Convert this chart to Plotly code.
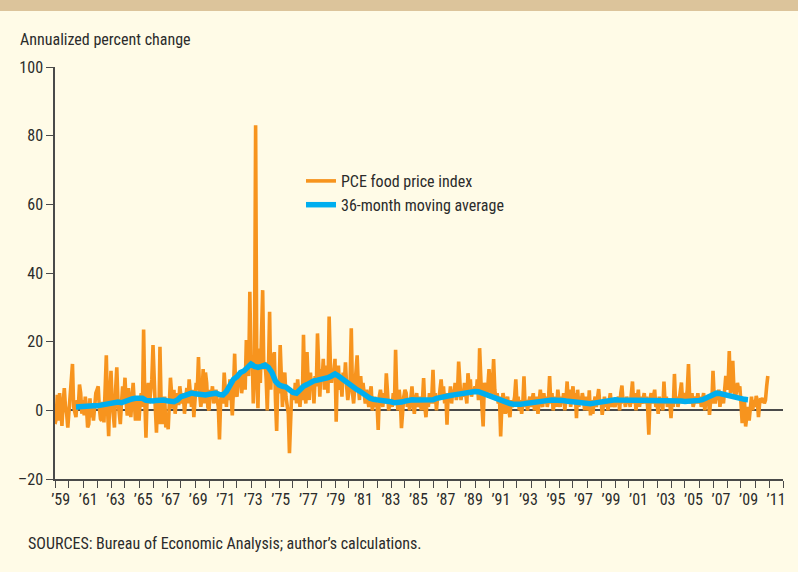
import pandas as pd
import plotly.graph_objects as go

# Monthly PCE food price index, annualized percent change (Jan 1959 - Dec 2009)
pce_food = [
    -4, -2.5, 4.5, -3, 5, -1, -4.5, 2, 6.5, 1, -1, -5,          # 1959
    0, 2, 6, 13.5, 1, -0.5, -2, 3, 1, 7.5, 5, -1,               # 1960
    3, -1.5, 4, 1, -5, -4, 3.5, -2, 1.5, -3, 2, 5,              # 1961
    6, 7, 1, -2.5, -3, 2.5, -3.5, 4, 16, 1, -7.5, 4,            # 1962
    11.5, 2, -3, -5, 6, 12.5, 3, -1, -4, 2, 7, 3,               # 1963
    9.5, 2, -1.5, 6.5, 1, -2, 3, 8, 2, -3, 4, 1,                # 1964
    -3, 3, 5, 1, 23.5, 3, -8, 4, 8, 2, 5, 9,                    # 1965
    19, 6, 1, -6.5, 3, -4, 18.5, 2, -4, -1, 4, -5,              # 1966
    -2, -5.5, 1, 9.5, 5, 0.5, 6, -1, 3, 5, 1.5, 7,              # 1967
    4, 2, 5, -1, 3, 6.5, 2, 9, 5, 1, 6, -2,                     # 1968
    3, 8, 6, 15.5, 5, 1, 4, 12, 2, 11, 8, 1,                    # 1969
    0, 6, 4, 7, 2, 5, 6, 3, 1, -8.5, 3, 5,                      # 1970
    2, 11, 4, 1, 7, 3, 9, 2, -1.5, 6, 16.5, 5,                  # 1971
    4, 9, 7, 11, 5, 8, 12, 6, 20.5, 14, 10, 34.5,               # 1972
    13, 16, 2, 15, 83, 10, 0.6, 18, 8, 22, 35, 12,              # 1973
    14, 9, 0, 12, 28.7, 6, 16.6, 10, 17, 3, -6, 8,              # 1974
    5, 19, 7, 1, 9, 11, 4, 2, -1, -12.5, 2, 6,                  # 1975
    5, 3, 8, 2, 9, 4, 1, 6, 3, 22, 5, 2,                        # 1976
    17, 8, 3, 11, 6, 9, 2, 10, 7, 22.4, 9, 4,                   # 1977
    12, 9, 15, 6, 13, 11, 5, 27.3, 14, 8, 12, 10,               # 1978
    15, -3.3, 10, 13, 6, 9, 4, 11, 8, 14, 7, 3,                 # 1979
    6, 9, 23.9, 5, 2, 8, 12, 16, 7, 3, 10, 5,                   # 1980
    8, 4, 2, 6, 3, 1, 5, 7, 0, 3, 4, 1,                         # 1981
    2, -5.7, 4, 6, 3, 1, 5, 2, 10.8, 3, 0, 2,                   # 1982
    3, 1, 5, 2, 17.6, 4, 0, 6, 3, -5.2, 2, 4,                   # 1983
    6, 5, 1, 3, 0, 4, 7, 2, -1, 3, 5, 1,                        # 1984
    2, 4, 0, 3, 9.4, 1, -2, 3, 1, 5, 2, 4,                      # 1985
    11.8, 2, 5, 0, 4, 3, 6, 9, 4, 7, 2, 5,                      # 1986
    -4.2, 5, 3, 7, 2, 6, 4, 8, 3, 5, 14.2, 6,                   # 1987
    3, 6, 4, 8, 5, 2, 10.8, 7, 9, 4, 6, 5,                      # 1988
    7, 5, 9, 3, 18.1, 6, 1, -4.7, 8, 6, 4, 7,                   # 1989
    12, 8, 4, 7, 14.9, 6, 3, 5, 2, 4, -7.6, 1,                  # 1990
    5, 3, -1, 2, 4, 0, -2, 3, 1, 2, 4, 9,                       # 1991
    2, 4, 0, 3, -1, 2, 9.9, 1, 3, 0, 2, 4,                      # 1992
    1, 3, 5, 0, 2, 4, -1, 3, 6, 2, 1, 5,                        # 1993
    2, 4, 1, 3, 10, 2, 5, 0, 3, 4, 1, 6,                        # 1994
    3, 1, 4, 2, 5, 0, 3, 8.4, 2, 6, 1, 4,                       # 1995
    7, 2, 5, -2.3, 6, 1, 4, 2, 5, 3, 0, 4,                      # 1996
    2, 0, 5.8, -1.5, 3, -1, 2, 4, 1, 3, 6.2, 2,                 # 1997
    3, -1.3, 2, 4, 1, 3, 0, 2, 5, 1, 3, 2,                      # 1998
    1, 3, 2, 4, 0, 5, 7.2, 2, 3, 1, 4, 2,                       # 1999
    3, 1, 4, 8.4, 2, 5, 0, 3, 6, 1, 4, 2,                       # 2000
    3, 5, 2, 4, 1, -7.1, 3, 5, 2, 4, 6, 1,                      # 2001
    2, -1, 4, 1, 3, 0, 8.4, 2, 4, 1, 3, 2,                      # 2002
    -2.3, 3, 1, 10.6, 2, 4, 1, 3, 5, 8.1, 2, 4,                 # 2003
    5, 3, 6, 13.5, 4, 2, 5, 1, 3, 4, 2, 5,                      # 2004
    2, 4, 1, 3, 5, 0, 3, 2, 4, -1.3, 3, 2,                      # 2005
    11.5, 4, 2, 5, 3, 6, 1, 4, 5, 2, 7, 10,                     # 2006
    6, 8, 17.3, 5, 7, 14.4, 6, 4, 5, 8, 6, 7,                   # 2007
    2, -3.7, 0, 3, -4.7, -2, 1, -3, 2, 4, 0, 3,                 # 2008
    1, 4.2, 3, -2, 2, 3.5, 3, 3.5, 2, 3, 7, 10,                 # 2009
]
pce_start = "1959-01-01"

# 36-month (centered) moving average, read quarterly from Jul 1960 to Jul 2008
moving_avg = [
    1.0, 1.1,                      # 1960 (Jul, Oct)
    1.2, 1.5, 1.5, 1.3,            # 1961
    1.3, 1.5, 1.7, 2.0,            # 1962
    2.1, 2.2, 2.4, 2.2,            # 1963
    2.7, 3.0, 3.3, 3.5,            # 1964
    3.6, 3.5, 2.9, 2.6,            # 1965
    2.7, 2.9, 3.1, 3.0,            # 1966
    2.8, 2.6, 2.5, 3.0,            # 1967
    4.0, 4.3, 4.8, 5.0,            # 1968
    4.8, 4.6, 4.6, 4.5,            # 1969
    4.7, 4.9, 5.0, 4.6,            # 1970
    4.5, 5.5, 7.5, 9.0,            # 1971
    9.8, 11.0, 11.5, 12.5,         # 1972
    13.5, 12.8, 12.5, 12.8,        # 1973
    13.2, 12.5, 11.0, 8.5,         # 1974
    7.4, 7.0, 6.8, 6.0,            # 1975
    5.2, 5.0, 6.3, 7.0,            # 1976
    7.5, 8.3, 8.6, 8.8,            # 1977
    9.0, 9.1, 9.5, 10.0,           # 1978
    10.6, 10.0, 9.2, 8.5,          # 1979
    7.4, 7.0, 6.2, 5.6,            # 1980
    4.8, 4.2, 3.5, 3.2,            # 1981
    3.1, 2.9, 2.8, 2.6,            # 1982
    2.5, 2.2, 2.1, 2.4,            # 1983
    2.7, 3.0, 3.1, 3.0,            # 1984
    3.0, 3.1, 3.0, 3.1,            # 1985
    3.1, 3.5, 3.8, 4.0,            # 1986
    4.1, 4.3, 4.5, 4.7,            # 1987
    4.8, 5.0, 5.0, 5.2,            # 1988
    5.5, 5.4, 5.0, 4.6,            # 1989
    4.2, 3.8, 3.3, 3.0,            # 1990
    2.6, 2.2, 2.0, 1.8,            # 1991
    1.6, 1.8, 1.9, 2.1,            # 1992
    2.3, 2.5, 2.6, 2.7,            # 1993
    2.8, 2.9, 3.0, 3.1,            # 1994
    3.1, 2.9, 2.7, 2.6,            # 1995
    2.5, 2.3, 2.2, 2.0,            # 1996
    1.9, 1.9, 2.1, 2.3,            # 1997
    2.4, 2.7, 2.9, 3.1,            # 1998
    3.1, 3.0, 3.0, 2.9,            # 1999
    3.0, 2.9, 2.9, 3.0,            # 2000
    3.0, 3.1, 3.0, 2.9,            # 2001
    2.9, 2.9, 2.8, 2.9,            # 2002
    2.8, 2.8, 2.7, 2.7,            # 2003
    2.6, 2.6, 2.7, 2.8,            # 2004
    2.9, 3.1, 3.5, 3.9,            # 2005
    4.3, 5.0, 4.9, 4.6,            # 2006
    4.4, 4.1, 3.8, 3.6,            # 2007
    3.4, 3.2, 3.1,                 # 2008
]
ma_start = "1960-07-01"

y_ticks = [-20, 0, 20, 40, 60, 80, 100]
y_tick_text = ["\u201320", "0", "20", "40", "60", "80", "100"]
year_labels = list(range(1959, 2012, 2))
year_tick_text = ["\u2019" + str(y)[2:] for y in year_labels]

series_names = ["PCE food price index", "36-month moving average"]
title_text = "Annualized percent change"
source_text = "SOURCES: Bureau of Economic Analysis; author\u2019s calculations."

ORANGE = "#F7941E"
BLUE = "#00AEEF"
BG = "#FFFBE7"
TAN = "#DCC49B"
AXIS = "#4A4A4A"
TEXT = "#2B2B2B"
FONT = "Liberation Sans Narrow, Arial Narrow, Roboto Condensed, Liberation Sans, Arial, sans-serif"

pce_dates = pd.date_range(pce_start, periods=len(pce_food), freq="MS")
ma_dates = pd.date_range(ma_start, periods=len(moving_avg), freq="3MS")

W, H = 798, 572
L, R, T, B = 55, 12, 67, 93
pw, ph = W - L - R, H - T - B

fig = go.Figure()
fig.add_trace(go.Scatter(x=pce_dates, y=pce_food, mode="lines", name=series_names[0],
                         legendgroup="a", line=dict(color=ORANGE, width=3.6)))
fig.add_trace(go.Scatter(x=ma_dates, y=moving_avg, mode="lines", name=series_names[1],
                         legendgroup="b", line=dict(color=BLUE, width=5.5)))
# invisible helper trace carrying the year-label axis
fig.add_trace(go.Scatter(x=[f"{year_labels[0]}-01-01"], y=[None], xaxis="x2", mode="lines",
                         showlegend=False, hoverinfo="skip"))

year_start_ticks = [f"{y}-01-01" for y in range(1959, 2012)]

fig.update_layout(
    width=W, height=H,
    margin=dict(l=L, r=R, t=T, b=B, pad=0),
    paper_bgcolor=BG, plot_bgcolor=BG,
    font=dict(family=FONT, size=16, color=TEXT),
    showlegend=True,
    legend=dict(x=(302 - L) / pw, y=1 - (164 - T) / ph, xanchor="left", yanchor="top",
                bgcolor="rgba(0,0,0,0)", font=dict(size=16, color=TEXT),
                itemwidth=30, tracegroupgap=7, traceorder="normal"),
    xaxis=dict(type="date", range=["1959-01-01", "2011-01-01"],
               tickmode="array", tickvals=year_start_ticks, showticklabels=False,
               ticks="outside", ticklen=7, tickwidth=1.2, tickcolor=AXIS,
               showline=True, linecolor=AXIS, linewidth=1.5,
               showgrid=False, zeroline=False),
    xaxis2=dict(type="date", overlaying="x", anchor="y", side="bottom",
                range=["1958-08-03", "2011-07-04"],
                tickmode="array", tickvals=[f"{y}-01-01" for y in year_labels],
                ticktext=year_tick_text, ticks="", ticklabelstandoff=9,
                tickfont=dict(size=16, color=TEXT),
                showline=False, showgrid=False, zeroline=False),
    yaxis=dict(range=[-20, 100], tickmode="array", tickvals=y_ticks, ticktext=y_tick_text,
               ticks="outside", ticklen=7, tickwidth=1.2, tickcolor=AXIS,
               showline=True, linecolor=AXIS, linewidth=1.5,
               showgrid=False, zeroline=True, zerolinecolor=AXIS, zerolinewidth=1.5,
               tickfont=dict(size=16, color=TEXT)),
)

# tan band at top of the page
fig.add_shape(type="rect", xref="paper", yref="paper",
              x0=-L / pw - 0.01, x1=1 + R / pw + 0.01,
              y0=1 + (T - 11) / ph, y1=1 + T / ph + 0.01,
              fillcolor=TAN, line=dict(width=0), layer="above")

fig.add_annotation(text=title_text, xref="paper", yref="paper",
                   x=(18 - L) / pw, y=1 + (T - 40) / ph, xanchor="left", yanchor="middle",
                   showarrow=False, font=dict(size=16, color=TEXT))
fig.add_annotation(text=source_text, xref="paper", yref="paper",
                   x=(26 - L) / pw, y=-(543 - T - ph) / ph, xanchor="left", yanchor="middle",
                   showarrow=False, font=dict(size=16, color=TEXT))

fig.write_html(
    "out.html",
    config={"displayModeBar": False},
    post_script="document.body.style.margin='0';document.body.style.padding='0';"
                "document.body.style.background='" + BG + "';"
                "document.documentElement.style.background='" + BG + "';",
)
